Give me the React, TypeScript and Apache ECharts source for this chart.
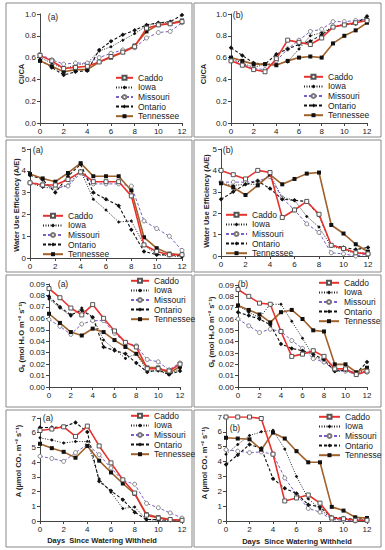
import React, { useEffect, useRef } from "react";
import * as echarts from "echarts";

const days = [0, 1, 2, 3, 4, 5, 6, 7, 8, 9, 10, 11, 12];
const cultivars = ["Caddo", "Iowa", "Missouri", "Ontario", "Tennessee"];

// Panel 1: Ci/CA (a)
const ciA_Caddo = [0.62, 0.57, 0.5, 0.51, 0.52, 0.56, 0.61, 0.65, 0.7, 0.87, 0.9, 0.91, 0.93];
const ciA_Iowa = [0.6, 0.55, 0.5, 0.53, 0.55, 0.66, 0.7, 0.76, 0.82, 0.89, 0.92, 0.92, 0.93];
const ciA_Missouri = [0.63, 0.58, 0.54, 0.55, 0.55, 0.6, 0.64, 0.67, 0.69, 0.78, 0.83, 0.84, 0.92];
const ciA_Ontario = [0.58, 0.51, 0.44, 0.47, 0.48, 0.67, 0.75, 0.81, 0.85, 0.9, 0.92, 0.93, 0.99];
const ciA_Tennessee = [0.57, 0.52, 0.47, 0.49, 0.49, 0.56, 0.6, 0.65, 0.71, 0.84, 0.9, 0.91, 0.94];
// Panel 2: Ci/CA (b)
const ciB_Caddo = [0.57, 0.53, 0.49, 0.47, 0.59, 0.76, 0.74, 0.72, 0.78, 0.88, 0.9, 0.92, 0.94];
const ciB_Iowa = [0.59, 0.55, 0.51, 0.54, 0.54, 0.56, 0.68, 0.8, 0.83, 0.88, 0.91, 0.92, 0.96];
const ciB_Missouri = [0.58, 0.54, 0.5, 0.49, 0.57, 0.68, 0.76, 0.84, 0.86, 0.93, 0.93, 0.94, 0.95];
const ciB_Ontario = [0.69, 0.62, 0.55, 0.54, 0.63, 0.68, 0.72, 0.75, 0.81, 0.88, 0.9, 0.91, 0.98];
const ciB_Tennessee = [0.6, 0.57, 0.54, 0.54, 0.53, 0.57, 0.6, 0.61, 0.6, 0.73, 0.8, 0.85, 0.92];
// Panel 3: WUE (a)
const wueA_Caddo = [3.45, 3.35, 3.35, 3.6, 3.95, 3.5, 3.5, 3.5, 2.85, 0.6, 0.3, 0.15, 0.15];
const wueA_Iowa = [3.45, 3.25, 3.2, 3.35, 4.0, 2.7, 2.2, 1.65, 1.7, 0.6, 0.15, 0.1, 0.05];
const wueA_Missouri = [3.45, 3.4, 3.2, 3.3, 3.9, 3.4, 3.4, 3.4, 3.3, 1.7, 1.35, 1.0, 0.35];
const wueA_Ontario = [3.8, 3.6, 3.0, 3.75, 4.3, 3.0, 2.7, 2.4, 1.3, 0.3, 0.15, 0.15, 0.1];
const wueA_Tennessee = [3.85, 3.65, 3.5, 3.9, 4.35, 3.75, 3.75, 3.75, 3.1, 0.95, 0.45, 0.2, 0.15];
// Panel 4: WUE (b)
const wueB_Caddo = [4.0, 3.8, 3.6, 4.0, 3.9, 1.8, 2.15, 2.55, 1.95, 0.5, 0.35, 0.15, 0.1];
const wueB_Iowa = [3.4, 3.3, 3.35, 3.35, 3.8, 2.75, 2.6, 1.85, 1.35, 0.45, 0.3, 0.1, 0.2];
const wueB_Missouri = [3.45, 3.45, 3.45, 3.5, 3.7, 2.7, 2.15, 1.5, 1.1, 0.15, 0.1, 0.0, 0.1];
const wueB_Ontario = [2.65, 3.0, 3.35, 3.5, 3.15, 2.65, 2.6, 2.55, 1.9, 0.5, 0.4, 0.3, 0.4];
const wueB_Tennessee = [3.4, 3.2, 2.85, 3.3, 3.8, 3.35, 3.6, 3.85, 3.9, 1.45, 1.05, 0.55, 0.2];
// Panel 5: Gs (a)
const gsA_Caddo = [0.086, 0.078, 0.069, 0.063, 0.072, 0.06, 0.049, 0.039, 0.035, 0.016, 0.016, 0.014, 0.02];
const gsA_Iowa = [0.077, 0.069, 0.062, 0.069, 0.061, 0.041, 0.033, 0.025, 0.029, 0.014, 0.014, 0.011, 0.016];
const gsA_Missouri = [0.059, 0.053, 0.046, 0.055, 0.058, 0.058, 0.047, 0.039, 0.036, 0.024, 0.022, 0.015, 0.021];
const gsA_Ontario = [0.079, 0.07, 0.063, 0.067, 0.061, 0.035, 0.032, 0.029, 0.021, 0.013, 0.015, 0.011, 0.014];
const gsA_Tennessee = [0.064, 0.056, 0.048, 0.045, 0.051, 0.048, 0.041, 0.035, 0.029, 0.017, 0.017, 0.012, 0.018];
// Panel 6: Gs (b)
const gsB_Caddo = [0.086, 0.08, 0.074, 0.073, 0.049, 0.027, 0.029, 0.032, 0.027, 0.016, 0.016, 0.011, 0.014];
const gsB_Iowa = [0.072, 0.066, 0.061, 0.073, 0.073, 0.058, 0.043, 0.027, 0.023, 0.014, 0.014, 0.012, 0.015];
const gsB_Missouri = [0.06, 0.054, 0.048, 0.051, 0.049, 0.041, 0.034, 0.025, 0.022, 0.015, 0.014, 0.011, 0.013];
const gsB_Ontario = [0.066, 0.063, 0.06, 0.055, 0.038, 0.034, 0.032, 0.029, 0.024, 0.014, 0.015, 0.012, 0.022];
const gsB_Tennessee = [0.072, 0.068, 0.064, 0.057, 0.066, 0.068, 0.06, 0.05, 0.049, 0.02, 0.02, 0.013, 0.017];
// Panel 7: A (a)
const aA_Caddo = [6.15, 6.25, 6.4, 5.75, 6.45, 5.1, 3.95, 2.8, 1.9, 0.4, 0.2, 0.1, 0.05];
const aA_Iowa = [5.65, 5.5, 5.3, 5.4, 5.4, 2.85, 1.95, 0.85, 0.95, 0.1, 0.05, 0.05, 0.05];
const aA_Missouri = [4.4, 4.25, 4.05, 4.65, 5.2, 4.5, 3.6, 2.75, 2.5, 1.2, 0.9, 0.55, 0.2];
const aA_Ontario = [6.35, 6.35, 6.4, 6.7, 6.05, 2.7, 2.05, 1.45, 0.6, 0.1, 0.1, 0.05, 0.05];
const aA_Tennessee = [5.25, 4.95, 4.7, 4.3, 5.1, 4.1, 3.3, 2.55, 1.85, 0.45, 0.25, 0.1, 0.05];
// Panel 8: A (b)
const aB_Caddo = [7.0, 7.0, 7.0, 6.9, 4.5, 1.35, 1.55, 1.75, 1.2, 0.2, 0.15, 0.05, 0.05];
const aB_Iowa = [4.5, 5.15, 5.75, 6.0, 6.1, 4.85, 3.0, 1.5, 0.8, 0.15, 0.1, 0.05, 0.1];
const aB_Missouri = [4.8, 4.7, 4.6, 4.65, 4.5, 2.9, 1.8, 0.85, 0.6, 0.1, 0.05, 0.0, 0.05];
const aB_Ontario = [3.8, 4.45, 5.15, 4.9, 2.85, 2.2, 1.85, 1.1, 0.95, 0.25, 0.2, 0.1, 0.2];
const aB_Tennessee = [5.6, 5.55, 5.5, 4.8, 5.95, 5.55, 4.7, 3.95, 3.95, 0.95, 0.7, 0.25, 0.2];

const panelData = [
  [ciA_Caddo, ciA_Iowa, ciA_Missouri, ciA_Ontario, ciA_Tennessee],
  [ciB_Caddo, ciB_Iowa, ciB_Missouri, ciB_Ontario, ciB_Tennessee],
  [wueA_Caddo, wueA_Iowa, wueA_Missouri, wueA_Ontario, wueA_Tennessee],
  [wueB_Caddo, wueB_Iowa, wueB_Missouri, wueB_Ontario, wueB_Tennessee],
  [gsA_Caddo, gsA_Iowa, gsA_Missouri, gsA_Ontario, gsA_Tennessee],
  [gsB_Caddo, gsB_Iowa, gsB_Missouri, gsB_Ontario, gsB_Tennessee],
  [aA_Caddo, aA_Iowa, aA_Missouri, aA_Ontario, aA_Tennessee],
  [aB_Caddo, aB_Iowa, aB_Missouri, aB_Ontario, aB_Tennessee],
];

const panelTags = ["(a)", "(b)", "(a)", "(b)", "(a)", "(b)", "(a)", "(b)"];
const yNames = [
  "Ci/CA",
  "Ci/CA",
  "Water Use Efficiency (A/E)",
  "Water Use Efficiency (A/E)",
  "Gₛ (mol H₂O m⁻² s⁻¹)",
  "Gₛ (mol H₂O m⁻² s⁻¹)",
  "A (µmol CO₂ m⁻² s⁻¹)",
  "A (µmol CO₂ m⁻² s⁻¹)",
];
const yMax = [1, 1, 5, 5, 0.09, 0.09, 7, 7];
const yStep = [0.2, 0.2, 1, 1, 0.01, 0.01, 1, 1];
const yDecimals = [1, 1, 0, 0, 2, 2, 0, 0];
const xName = "Days  Since Watering Withheld";

// layout (pixels)
const grids = [
  { left: 40, top: 14, width: 142, height: 109 },
  { left: 231, top: 14, width: 136, height: 109 },
  { left: 30, top: 149, width: 152, height: 109 },
  { left: 221, top: 149, width: 147, height: 107 },
  { left: 49, top: 284, width: 131, height: 103 },
  { left: 238, top: 285, width: 129, height: 102 },
  { left: 40, top: 418, width: 142, height: 103 },
  { left: 226, top: 417, width: 141, height: 104 },
];
const legendPos = [
  { left: 115, top: 73, w: 17 },
  { left: 303, top: 72, w: 19 },
  { left: 42, top: 211, w: 20 },
  { left: 225, top: 210, w: 21 },
  { left: 130, top: 276, w: 18 },
  { left: 318, top: 278, w: 20 },
  { left: 130, top: 411, w: 18 },
  { left: 318, top: 412, w: 21 },
];
const tagPos = [
  [53, 17], [238, 15], [38, 150], [228, 150], [63, 284], [243, 284], [48, 418], [235, 428],
];
const yNamePos = [
  [21, 74], [203, 74], [16, 205], [206, 201], [21, 337], [211, 332], [18, 461], [204, 463],
];
const xNamePos = [[102, 540], [297, 541]];
const boxes = [
  [6, 3, 186, 134], [194, 3, 187, 134],
  [6, 140, 186, 132], [194, 140, 187, 132],
  [6, 275, 186, 132], [194, 275, 187, 132],
  [6, 410, 186, 137], [194, 410, 187, 137],
];

const styles: any = {
  Caddo: {
    line: { color: "#e8322d", width: 1.6, type: "solid" },
    symbol: "rect", size: 4,
    item: { color: "#ffffff", borderColor: "#555", borderWidth: 1 },
  },
  Iowa: {
    line: { color: "#222", width: 1, type: [1, 1.5] },
    symbol: "diamond", size: 3.5,
    item: { color: "#111" },
  },
  Missouri: {
    line: { color: "#7b5cc8", width: 1, type: [3, 2] },
    symbol: "circle", size: 4,
    item: { color: "#ffffff", borderColor: "#777", borderWidth: 0.9 },
  },
  Ontario: {
    line: { color: "#111", width: 1.1, type: [3, 2] },
    symbol: "diamond", size: 4.5,
    item: { color: "#111" },
  },
  Tennessee: {
    line: { color: "#a0612b", width: 1.6, type: "solid" },
    symbol: "rect", size: 4,
    item: { color: "#111" },
  },
};

function seriesName(c: string, p: number) {
  if (c === "Tennessee" && (p === 5 || p === 7)) return "Tennesse";
  return c;
}

export default function App() {
  const ref = useRef<HTMLDivElement>(null);
  useEffect(() => {
    if (!ref.current) return;
    const chart = echarts.init(ref.current, undefined, { renderer: "svg" });
    const font = "Liberation Sans, Arial, sans-serif";
    const series: any[] = [];
    panelData.forEach((arrs, p) => {
      cultivars.forEach((c, i) => {
        const s = styles[c];
        series.push({
          type: "line",
          name: seriesName(c, p),
          xAxisIndex: p,
          yAxisIndex: p,
          data: days.map((d, k) => [d, arrs[i][k]]),
          symbol: s.symbol,
          symbolSize: s.size,
          showAllSymbol: true,
          lineStyle: s.line,
          itemStyle: s.item,
          z: i === 0 ? 4 : 3,
        });
      });
    });
    const axisCommon = {
      axisLine: { show: true, onZero: false, lineStyle: { color: "#444", width: 1 } },
      axisTick: { show: true, length: 3, lineStyle: { color: "#444" } },
      splitLine: { show: false },
    };
    const xAxis = grids.map((_, p) => ({
      type: "value",
      gridIndex: p,
      min: 0,
      max: 12,
      interval: 2,
      ...axisCommon,
      axisLabel: { fontSize: 8, color: "#222", margin: 4, fontFamily: font },
    }));
    const yAxis = grids.map((_, p) => ({
      type: "value",
      gridIndex: p,
      min: 0,
      max: yMax[p],
      interval: yStep[p],
      ...axisCommon,
      axisLabel: {
        fontSize: 8,
        color: "#222",
        margin: 4,
        fontFamily: font,
        formatter: (v: number) => v.toFixed(yDecimals[p]),
      },
    }));
    const legend = legendPos.map((l, p) => ({
      orient: "vertical",
      left: l.left,
      top: l.top,
      padding: 0,
      itemGap: 0,
      itemWidth: l.w,
      itemHeight: 5,
      selectedMode: false,
      textStyle: { fontSize: 8.5, lineHeight: 9.6, color: "#222", fontFamily: font },
      data: cultivars.map((c) => seriesName(c, p)),
    }));
    const graphic: any[] = [];
    boxes.forEach((b) => {
      graphic.push({
        type: "rect",
        shape: { x: b[0], y: b[1], width: b[2], height: b[3] },
        style: { fill: "none", stroke: "#888", lineWidth: 1 },
        silent: true,
        z: 0,
      });
    });
    tagPos.forEach((t, p) => {
      graphic.push({
        type: "text",
        x: t[0],
        y: t[1],
        style: { text: panelTags[p], fontSize: 8.5, fill: "#222", fontFamily: font, align: "center", verticalAlign: "middle" },
      });
    });
    yNamePos.forEach((t, p) => {
      graphic.push({
        type: "text",
        x: t[0],
        y: t[1],
        rotation: Math.PI / 2,
        style: { text: yNames[p], fontSize: 7.5, fontWeight: "bold", fill: "#222", fontFamily: font, align: "center", verticalAlign: "middle" },
      });
    });
    xNamePos.forEach((t) => {
      graphic.push({
        type: "text",
        x: t[0],
        y: t[1],
        style: { text: xName, fontSize: 7.5, fontWeight: "bold", fill: "#222", fontFamily: font, align: "center", verticalAlign: "middle" },
      });
    });
    chart.setOption({
      animation: false,
      backgroundColor: "#ffffff",
      grid: grids.map((g) => ({ ...g, containLabel: false })),
      xAxis,
      yAxis,
      legend,
      series,
      graphic,
    });
    return () => chart.dispose();
  }, []);
  return <div ref={ref} style={{ position: "absolute", left: 0, top: 0, width: 385, height: 550 }} />;
}
